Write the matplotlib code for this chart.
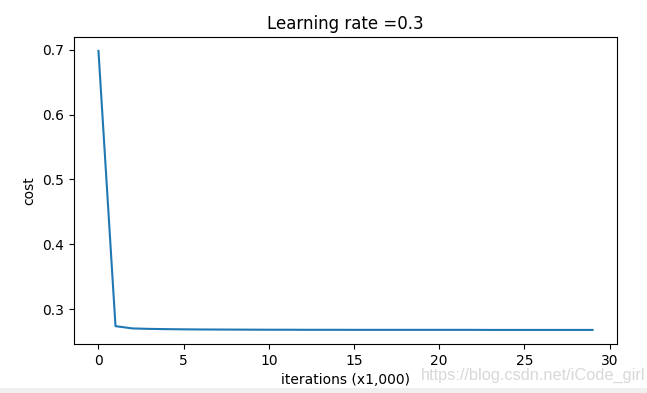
import numpy as np
import matplotlib.pyplot as plt
from matplotlib.patches import Rectangle

# cost every 1,000 iterations
iterations = list(range(30))
costs = [0.698, 0.274, 0.2705, 0.2698, 0.2694, 0.2691, 0.2689, 0.2688, 0.2687, 0.2686,
         0.2685, 0.2685, 0.2684, 0.2684, 0.2684, 0.2683, 0.2683, 0.2683, 0.2683, 0.2683,
         0.2683, 0.2683, 0.2683, 0.2682, 0.2682, 0.2682, 0.2682, 0.2682, 0.2682, 0.2682]
learning_rate = 0.3

fig = plt.figure(figsize=(6.47, 3.93), dpi=100)
ax = fig.add_axes([0.114, 0.125, 0.84, 0.781])
ax.plot(iterations, costs)
ax.set_ylabel('cost')
ax.set_xlabel('iterations (x1,000)')
ax.set_title('Learning rate =' + str(learning_rate))

# watermark + toolbar strip from the screenshot
fig.text(0.998, 0.045, 'https://blog.csdn.net/iCode_girl', ha='right', va='center',
         fontsize=11.8, color='#d8d8d8', family='Liberation Sans')
fig.patches.append(Rectangle((0, 0), 1, 0.013, transform=fig.transFigure,
                             facecolor='#efefef', edgecolor='none'))

fig.savefig('out.png', dpi=100)
